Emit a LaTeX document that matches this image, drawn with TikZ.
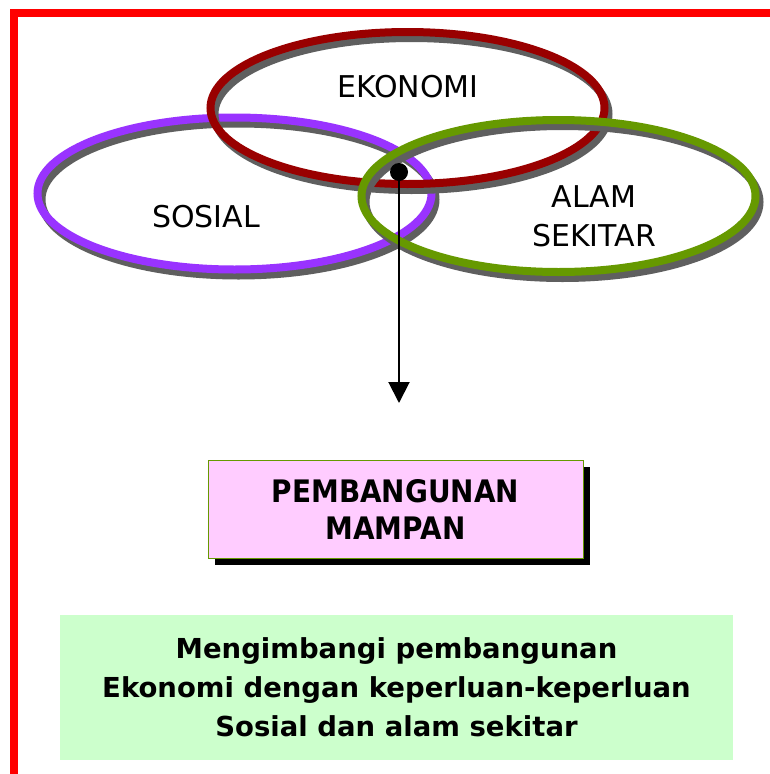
\documentclass[tikz,border=0pt]{standalone}
\usepackage{fontspec}
\setmainfont{DejaVu Sans}
\newfontfamily\condfont[FakeStretch=0.9]{DejaVu Sans}
\usetikzlibrary{arrows.meta,shadows}
\definecolor{ringred}{HTML}{990000}
\definecolor{ringpurple}{HTML}{9933FF}
\definecolor{ringgreen}{HTML}{669900}
\definecolor{ringshade}{HTML}{5F5F5F}
\definecolor{framered}{HTML}{FF0000}
\definecolor{pinkfill}{HTML}{FFCCFF}
\definecolor{pinkborder}{HTML}{669900}
\definecolor{notefill}{HTML}{CCFFCC}
\tikzset{
  ringshadow/.style={draw=ringshade, line width=8pt},
  ring/.style={draw=#1, line width=8pt},
  ringlabel/.style={font=\fontsize{30}{39}\selectfont, inner sep=0pt, align=center},
  dot/.style={circle, fill=black, minimum size=18pt, inner sep=0pt},
  arrowline/.style={line width=2pt, -{Triangle[width=21pt,length=21pt]}},
  pinkbox/.style={draw=pinkborder, line width=1pt, fill=pinkfill,
    minimum width=375pt, minimum height=98pt, align=center,
    font=\condfont\bfseries\fontsize{31}{37}\selectfont,
    drop shadow={shadow xshift=7pt, shadow yshift=-7pt, fill=black, opacity=1}},
  notebox/.style={fill=notefill, minimum width=673pt, minimum height=145pt,
    align=center, font=\bfseries\fontsize{27.5}{39}\selectfont},
  frameline/.style={draw=framered, line width=8pt}
}
\begin{document}
\begin{tikzpicture}[x=1pt,y=-1pt]
\useasboundingbox (0,0) rectangle (770,774);
\clip (0,0) rectangle (770,774);
\fill[white] (0,0) rectangle (770,774);
% frame
\draw[frameline] (14,800) -- (14,13) -- (800,13);
% ring centres
\coordinate (sosc) at (234.5,193.5);
\coordinate (ekoc) at (407.5,108);
\coordinate (alamc) at (558.5,196);
% rings
\draw[ringshadow] ([shift={(4,6)}]sosc) ellipse [x radius=197pt, y radius=76pt];
\draw[ring=ringpurple] (sosc) ellipse [x radius=197pt, y radius=76pt];
\draw[ringshadow] ([shift={(4,6)}]ekoc) ellipse [x radius=197pt, y radius=76pt];
\draw[ring=ringred] (ekoc) ellipse [x radius=197pt, y radius=76pt];
\draw[ringshadow] ([shift={(4,6)}]alamc) ellipse [x radius=197pt, y radius=76pt];
\draw[ring=ringgreen] (alamc) ellipse [x radius=197pt, y radius=76pt];
% labels
\node[ringlabel, anchor=base] (eko) at (408,97) {EKONOMI};
\node[ringlabel, anchor=base] (sos) at (206,227) {SOSIAL};
\node[ringlabel] (alam) at (594,216) {ALAM\\SEKITAR};
% hub and arrow
\node[dot] (hub) at (399,172) {};
\coordinate (tip) at (399,403);
\draw[arrowline] (hub.center) -- (tip);
% boxes
\node[pinkbox] (pm) at (395.5,509) {PEMBANGUNAN\\MAMPAN};
\node[notebox] (note) at (396.5,687.5) {Mengimbangi pembangunan\\Ekonomi dengan keperluan-keperluan\\Sosial dan alam sekitar};
\end{tikzpicture}
\end{document}
